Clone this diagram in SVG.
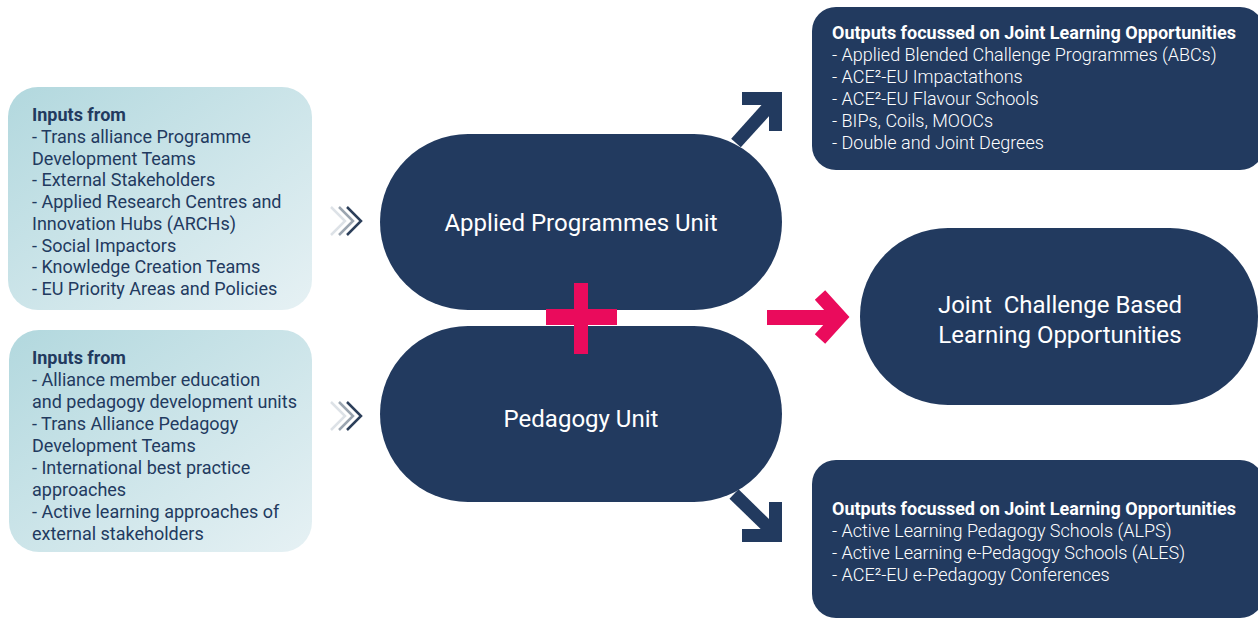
<svg xmlns="http://www.w3.org/2000/svg" width="1258" height="619" viewBox="0 0 1258 619">
<defs>
<linearGradient id="inGrad" x1="0" y1="0" x2="1" y2="1">
<stop offset="0" stop-color="#b2d8de"/>
<stop offset="1" stop-color="#e6f1f4"/>
</linearGradient>
<style>
.inbox{fill:url(#inGrad)}
.navy{fill:#223a5f}
.intxt{font-family:Roboto,"Liberation Sans",sans-serif;font-size:18px;fill:#223a5f}
.bold{font-weight:bold}
.outtxt{font-family:Roboto,"Liberation Sans",sans-serif;font-size:18px;fill:#ffffff;font-weight:300}
.outtxt .bold{font-weight:bold}
.unit{font-family:Roboto,"Liberation Sans",sans-serif;font-size:24px;fill:#ffffff;text-anchor:middle;white-space:pre}
.arr{fill:none;stroke:#223a5f;stroke-width:13;stroke-linejoin:miter;stroke-linecap:butt}
.pink{fill:none;stroke:#ea0b5c;stroke-width:14;stroke-linejoin:miter}
.chev{fill:none;stroke-width:2.5}
</style>
</defs>
<rect width="1258" height="619" fill="#ffffff"/>

<g id="inputs-applied">
<rect class="inbox" x="8" y="87" width="304" height="223" rx="30"/>
<text class="intxt">
<tspan class="bold" x="32" y="121">Inputs from</tspan>
<tspan x="32" y="142.8">- Trans alliance Programme</tspan>
<tspan x="32" y="164.5">Development Teams</tspan>
<tspan x="32" y="186.3">- External Stakeholders</tspan>
<tspan x="32" y="208">- Applied Research Centres and</tspan>
<tspan x="32" y="229.8">Innovation Hubs (ARCHs)</tspan>
<tspan x="32" y="251.5">- Social Impactors</tspan>
<tspan x="32" y="273.3">- Knowledge Creation Teams</tspan>
<tspan x="32" y="295">- EU Priority Areas and Policies</tspan>
</text>
</g>

<g id="inputs-pedagogy">
<rect class="inbox" x="9" y="330" width="303" height="222" rx="30"/>
<text class="intxt">
<tspan class="bold" x="32" y="364">Inputs from</tspan>
<tspan x="32" y="386">- Alliance member education</tspan>
<tspan x="32" y="408">and pedagogy development units</tspan>
<tspan x="32" y="430">- Trans Alliance Pedagogy</tspan>
<tspan x="32" y="452">Development Teams</tspan>
<tspan x="32" y="474">- International best practice</tspan>
<tspan x="32" y="496">approaches</tspan>
<tspan x="32" y="518">- Active learning approaches of</tspan>
<tspan x="32" y="540">external stakeholders</tspan>
</text>
</g>

<g id="applied-unit">
<rect class="navy" x="380" y="134" width="402" height="176" rx="88"/>
<text class="unit" x="581" y="231">Applied Programmes Unit</text>
</g>

<g id="pedagogy-unit">
<rect class="navy" x="380" y="326" width="402" height="176" rx="88"/>
<text class="unit" x="581" y="427">Pedagogy Unit</text>
</g>

<g id="plus">
<rect x="546" y="309" width="71" height="16" fill="#ea0b5c"/>
<rect x="574" y="283" width="14" height="71" fill="#ea0b5c"/>
</g>

<g id="joint-outcome">
<rect class="navy" x="860" y="228" width="398" height="177" rx="88"/>
<text class="unit" x="1060" y="313" xml:space="preserve">Joint  Challenge Based</text>
<text class="unit" x="1060" y="343">Learning Opportunities</text>
</g>

<g id="outputs-applied">
<rect class="navy" x="812" y="7" width="452" height="163" rx="24"/>
<text class="outtxt">
<tspan class="bold" x="832" y="39">Outputs focussed on Joint Learning Opportunities</tspan>
<tspan x="832" y="61">- Applied Blended Challenge Programmes (ABCs)</tspan>
<tspan x="832" y="83">- ACE²-EU Impactathons</tspan>
<tspan x="832" y="105">- ACE²-EU Flavour Schools</tspan>
<tspan x="832" y="127">- BIPs, Coils, MOOCs</tspan>
<tspan x="832" y="149">- Double and Joint Degrees</tspan>
</text>
</g>

<g id="outputs-pedagogy">
<rect class="navy" x="812" y="460" width="452" height="158" rx="24"/>
<text class="outtxt">
<tspan class="bold" x="832" y="515">Outputs focussed on Joint Learning Opportunities</tspan>
<tspan x="832" y="537">- Active Learning Pedagogy Schools (ALPS)</tspan>
<tspan x="832" y="559">- Active Learning e-Pedagogy Schools (ALES)</tspan>
<tspan x="832" y="581">- ACE²-EU e-Pedagogy Conferences</tspan>
</text>
</g>

<g id="connectors">
<g id="chevrons-top">
<polyline class="chev" stroke="#dde2e7" points="331,207 345,221 331,235"/>
<polyline class="chev" stroke="#9ba5b0" points="339,207 353,221 339,235"/>
<polyline class="chev" stroke="#2c3f5a" points="347,207 361,221 347,235"/>
</g>
<g id="chevrons-bottom">
<polyline class="chev" stroke="#dde2e7" points="331,402 345,416 331,430"/>
<polyline class="chev" stroke="#9ba5b0" points="339,402 353,416 339,430"/>
<polyline class="chev" stroke="#2c3f5a" points="347,402 361,416 347,430"/>
</g>
<g id="arrow-up">
<line class="arr" x1="736" y1="143" x2="773" y2="102"/>
<polyline class="arr" points="742,98.5 775.5,98.5 775.5,131"/>
</g>
<g id="arrow-down">
<line class="arr" x1="734" y1="494" x2="772" y2="531"/>
<polyline class="arr" points="775.5,502 775.5,535.5 742,535.5"/>
</g>
<g id="arrow-right">
<line x1="767" y1="317.5" x2="834" y2="317.5" stroke="#ea0b5c" stroke-width="15"/>
<polyline class="pink" points="820,295 840,317 820,339"/>
</g>
</g>
</svg>
